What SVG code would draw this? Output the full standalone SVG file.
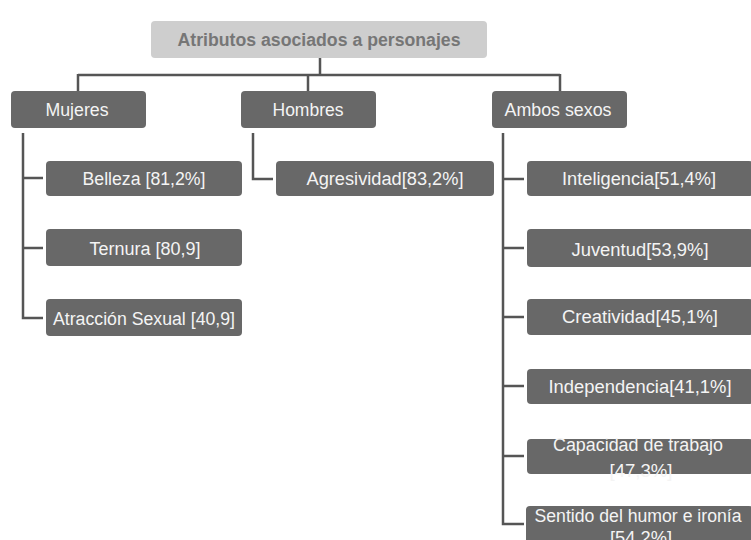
<svg xmlns="http://www.w3.org/2000/svg" width="751" height="540" viewBox="0 0 751 540">
<style>
.bx{fill:#686868;}
.tb{fill:#cecece;}
.t{font-family:"Liberation Sans",Arial,sans-serif;font-size:18px;fill:#f4f4f4;text-anchor:middle;}
.tt{font-family:"Liberation Sans",Arial,sans-serif;font-size:18px;font-weight:bold;fill:#767676;text-anchor:middle;}
.c{fill:none;stroke:#555;stroke-width:2.5;}
</style>
<rect width="751" height="540" fill="#ffffff"/>
<g id="connectors">
<path class="c" d="M320 58V75M78 75H560M78 74V91M308 74V91M560 74V91"/>
<path class="c" d="M23 133V318H43M23 178H43M23 248H43"/>
<path class="c" d="M253 133V179H273"/>
<path class="c" d="M503 133V524H524M503 179H524M503 248H524M503 317H524M503 386H524M503 456H524"/>
</g>
<g id="title"><rect class="tb" x="151" y="21" width="336" height="37" rx="4"/><text class="tt" x="319" y="46" textLength="283" lengthAdjust="spacingAndGlyphs">Atributos asociados a personajes</text></g>
<g id="mujeres"><rect class="bx" x="11" y="91" width="135" height="37" rx="4"/><text class="t" x="77" y="116" textLength="63" lengthAdjust="spacingAndGlyphs">Mujeres</text></g>
<g id="hombres"><rect class="bx" x="241" y="91" width="135" height="37" rx="4"/><text class="t" x="308" y="116" textLength="71" lengthAdjust="spacingAndGlyphs">Hombres</text></g>
<g id="ambos"><rect class="bx" x="492" y="91" width="135" height="37" rx="4"/><text class="t" x="558" y="116" textLength="107" lengthAdjust="spacingAndGlyphs">Ambos sexos</text></g>
<g id="belleza"><rect class="bx" x="46" y="161" width="196" height="35" rx="4"/><text class="t" x="144" y="185" textLength="123" lengthAdjust="spacingAndGlyphs">Belleza [81,2%]</text></g>
<g id="ternura"><rect class="bx" x="46" y="229" width="196" height="37" rx="4"/><text class="t" x="145" y="255" textLength="111" lengthAdjust="spacingAndGlyphs">Ternura [80,9]</text></g>
<g id="atraccion"><rect class="bx" x="46" y="299" width="196" height="37" rx="4"/><text class="t" x="144" y="325" textLength="182" lengthAdjust="spacingAndGlyphs">Atracción Sexual [40,9]</text></g>
<g id="agresividad"><rect class="bx" x="276" y="161" width="218" height="35" rx="4"/><text class="t" x="385" y="185" textLength="157" lengthAdjust="spacingAndGlyphs">Agresividad[83,2%]</text></g>
<g id="inteligencia"><rect class="bx" x="527" y="161" width="226" height="35" rx="4"/><text class="t" x="639" y="185" textLength="154" lengthAdjust="spacingAndGlyphs">Inteligencia[51,4%]</text></g>
<g id="juventud"><rect class="bx" x="527" y="229" width="226" height="38" rx="4"/><text class="t" x="640" y="256" textLength="137" lengthAdjust="spacingAndGlyphs">Juventud[53,9%]</text></g>
<g id="creatividad"><rect class="bx" x="527" y="299" width="226" height="36" rx="4"/><text class="t" x="640" y="323" textLength="156" lengthAdjust="spacingAndGlyphs">Creatividad[45,1%]</text></g>
<g id="independencia"><rect class="bx" x="527" y="369" width="226" height="35" rx="4"/><text class="t" x="640" y="393" textLength="183" lengthAdjust="spacingAndGlyphs">Independencia[41,1%]</text></g>
<g id="capacidad"><rect class="bx" x="527" y="439" width="226" height="35" rx="4"/><text class="t" x="638" y="451" textLength="170" lengthAdjust="spacingAndGlyphs">Capacidad de trabajo</text><text class="t" x="641" y="477" textLength="63" lengthAdjust="spacingAndGlyphs">[47,3%]</text></g>
<g id="sentido"><rect class="bx" x="526" y="506" width="227" height="38" rx="4"/><text class="t" x="638" y="522" textLength="207" lengthAdjust="spacingAndGlyphs">Sentido del humor e ironía</text><text class="t" x="641" y="544" textLength="62" lengthAdjust="spacingAndGlyphs">[54,2%]</text></g>
</svg>
